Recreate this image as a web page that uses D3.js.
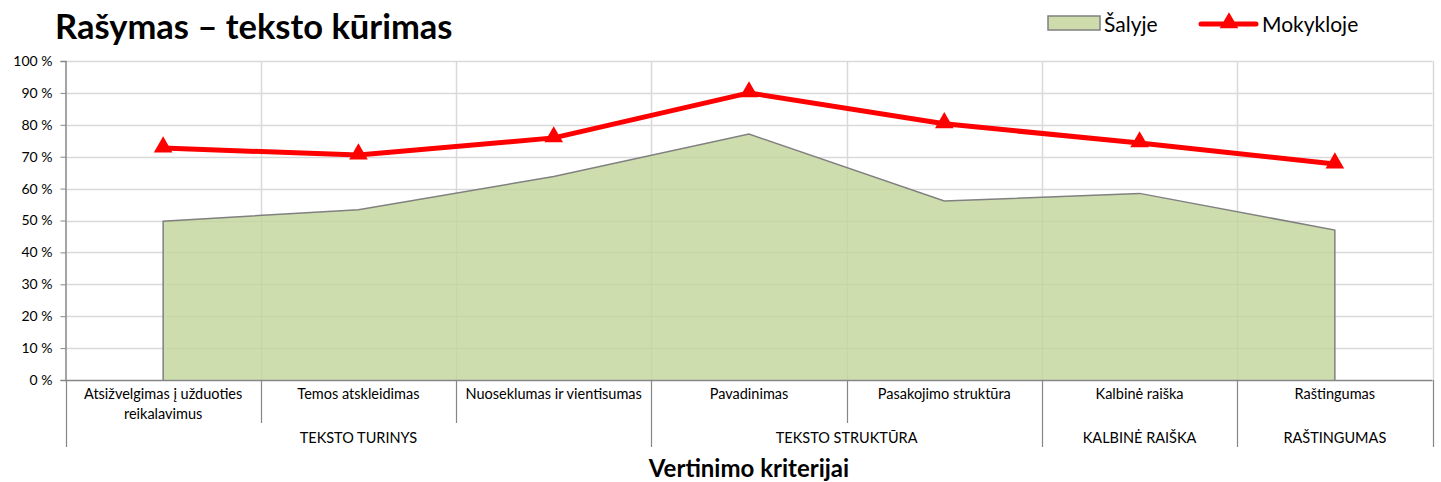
<!DOCTYPE html>
<html><head><meta charset="utf-8">
<script src="https://cdn.jsdelivr.net/npm/d3@7"></script>
<style>body{margin:0;background:#fff;} svg{display:block;font-family:Lato,"Liberation Sans",sans-serif;}</style>
</head><body>
<svg id="c" width="1441" height="482"></svg>
<script>
const categories = ["Atsižvelgimas į užduoties reikalavimus","Temos atskleidimas","Nuoseklumas ir vientisumas","Pavadinimas","Pasakojimo struktūra","Kalbinė raiška","Raštingumas"];
const categoryLines = [["Atsižvelgimas į užduoties","reikalavimus"],["Temos atskleidimas"],["Nuoseklumas ir vientisumas"],["Pavadinimas"],["Pasakojimo struktūra"],["Kalbinė raiška"],["Raštingumas"]];
const groups = [{name:"TEKSTO TURINYS",from:0,to:2},{name:"TEKSTO STRUKTŪRA",from:3,to:4},{name:"KALBINĖ RAIŠKA",from:5,to:5},{name:"RAŠTINGUMAS",from:6,to:6}];
const salyje = [49.8,53.4,63.8,77.1,56.1,58.5,47.0];
const mokykloje = [72.7,70.5,75.9,90.0,80.3,74.3,67.7];
const yTicks = [0,10,20,30,40,50,60,70,80,90,100];

const svg = d3.select("#c");
const L=65.5, R=1432.5, T=61, B=380;
const x = d3.scaleBand().domain(d3.range(categories.length)).range([L,R]).padding(0);
const y = d3.scaleLinear().domain([0,100]).range([B,T]);
const cx = i => x(i)+x.bandwidth()/2;

// title
svg.append("text").attr("x",55).attr("y",39).attr("font-size",34.5).attr("font-weight","bold").attr("fill","#000").text("Rašymas – teksto kūrimas");

// gridlines
svg.append("g").selectAll("line").data(yTicks.filter(d=>d>0)).join("line")
 .attr("x1",L).attr("x2",R).attr("y1",d=>Math.round(y(d))+0.5).attr("y2",d=>Math.round(y(d))+0.5)
 .attr("stroke","#d9d9d9").attr("stroke-width",1.5);
svg.append("g").selectAll("line").data(d3.range(1,categories.length+1)).join("line")
 .attr("x1",i=>Math.round(x(i)??R)+0.5).attr("x2",i=>Math.round(x(i)??R)+0.5).attr("y1",T).attr("y2",B)
 .attr("stroke","#d9d9d9").attr("stroke-width",1.5);

// area
const areaPts = [[cx(0),0],...salyje.map((v,i)=>[cx(i),v]),[cx(categories.length-1),0]];
svg.append("path").datum(salyje)
 .attr("d",d3.area().x((d,i)=>cx(i)).y0(y(0)).y1(d=>y(d)))
 .attr("fill","#c3d69b").attr("fill-opacity",0.82);
svg.append("path").datum(areaPts)
 .attr("d",d3.line().x(d=>d[0]).y(d=>y(d[1])))
 .attr("fill","none").attr("stroke","#808080").attr("stroke-width",1.5);

// y axis
const yAxis = svg.append("g").attr("transform",`translate(${L},0)`)
 .call(d3.axisLeft(y).tickValues(yTicks).tickSize(5).tickFormat(d=>d+" %"));
yAxis.select(".domain").attr("stroke","#868686").attr("stroke-width",1.5);
yAxis.selectAll(".tick line").attr("stroke","#868686");
yAxis.selectAll(".tick text").attr("font-size",14).attr("fill","#000").attr("x",-13).attr("font-family","Lato,sans-serif");

// x axis line
svg.append("line").attr("x1",L).attr("x2",R).attr("y1",B+0.5).attr("y2",B+0.5).attr("stroke","#868686").attr("stroke-width",1.5);

// category separators
const bounds = d3.range(categories.length+1);
const groupBounds = new Set([0,...groups.map(g=>g.to+1)]);
svg.append("g").selectAll("line").data(bounds).join("line")
 .attr("x1",i=>Math.round(i<categories.length?x(i):R)+0.5).attr("x2",i=>Math.round(i<categories.length?x(i):R)+0.5)
 .attr("y1",B).attr("y2",i=>groupBounds.has(i)?447:423)
 .attr("stroke","#868686").attr("stroke-width",1.2);

// category labels
const cl = svg.append("g").attr("font-size",14.5).attr("fill","#000").attr("text-anchor","middle");
categoryLines.forEach((lines,i)=>{
  const t = cl.append("text").attr("x",cx(i)).attr("y",399);
  lines.forEach((ln,j)=>t.append("tspan").attr("x",cx(i)).attr("dy",j===0?0:20).text(ln));
});
// group labels
svg.append("g").attr("font-size",14.5).attr("text-anchor","middle").selectAll("text").data(groups).join("text")
 .attr("x",g=>(x(g.from)+x(g.to)+x.bandwidth())/2).attr("y",443).text(g=>g.name);

// axis title
svg.append("text").attr("x",(L+R)/2).attr("y",477).attr("text-anchor","middle").attr("font-size",24).attr("font-weight","bold").text("Vertinimo kriterijai");

// red line
svg.append("path").datum(mokykloje)
 .attr("d",d3.line().x((d,i)=>cx(i)).y(d=>y(d)))
 .attr("fill","none").attr("stroke","#ff0000").attr("stroke-width",5).attr("stroke-linejoin","round");
const tri = d3.symbol().type(d3.symbolTriangle).size(150);
svg.append("g").selectAll("path").data(mokykloje).join("path")
 .attr("d",tri).attr("transform",(d,i)=>`translate(${cx(i)},${y(d)-1})`).attr("fill","#ff0000");

// legend
const lg = svg.append("g");
lg.append("rect").attr("x",1048).attr("y",16).attr("width",52).attr("height",14).attr("fill","#cddcaa").attr("stroke","#808080").attr("stroke-width",1.5);
lg.append("text").attr("x",1104).attr("y",32).attr("font-size",21).text("Šalyje");
lg.append("line").attr("x1",1201).attr("x2",1256).attr("y1",24).attr("y2",24).attr("stroke","#ff0000").attr("stroke-width",5).attr("stroke-linecap","round");
lg.append("path").attr("d",tri).attr("transform","translate(1229,23)").attr("fill","#ff0000");
lg.append("text").attr("x",1262).attr("y",32).attr("font-size",21).text("Mokykloje");
</script>
</body></html>
